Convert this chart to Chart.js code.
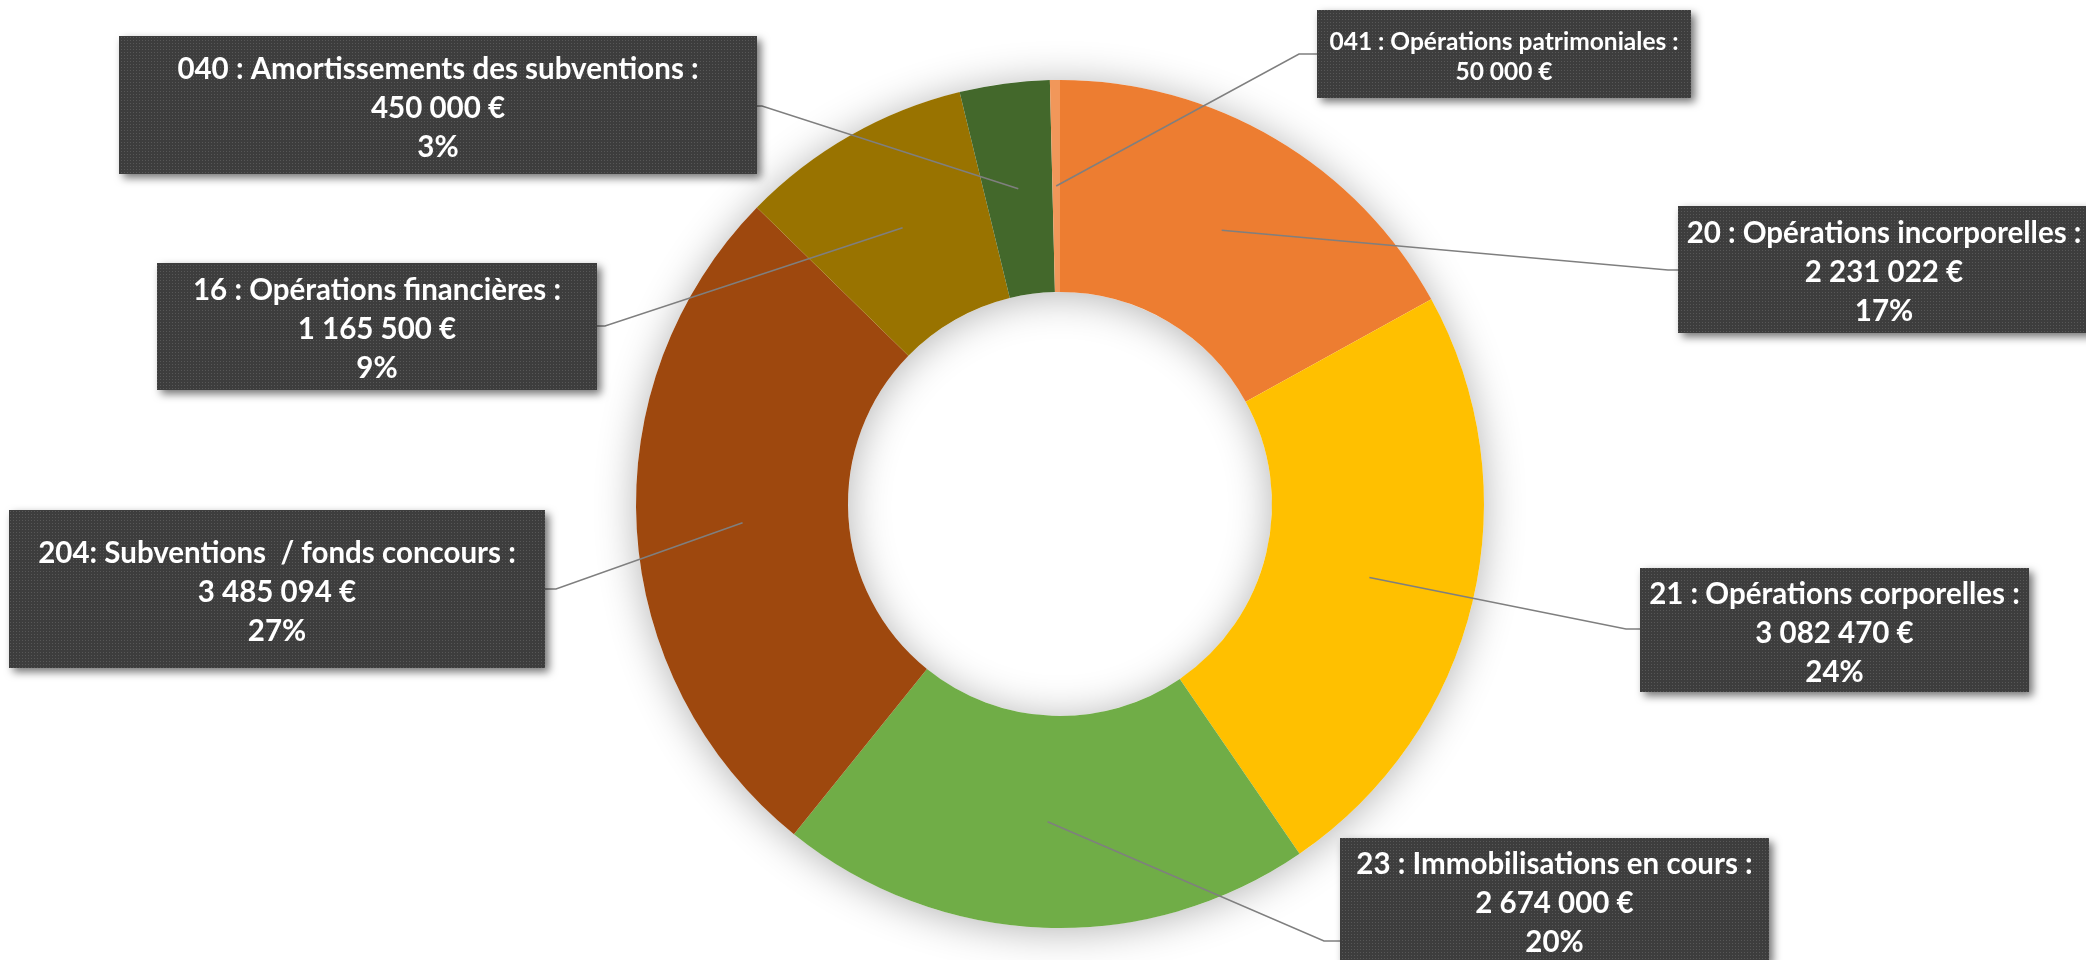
<!DOCTYPE html>
<html>
<head>
<meta charset="utf-8">
<script src="https://cdn.jsdelivr.net/npm/chart.js@4.4.1/dist/chart.umd.min.js"></script>
<style>
  html, body { margin: 0; padding: 0; background: #fff; overflow: hidden; }
  canvas { display: block; }
</style>
</head>
<body>
<canvas id="mychart" width="2086" height="960"></canvas>
<script>
// data
var categories = [
  '20 : Opérations incorporelles :',
  '21 : Opérations corporelles :',
  '23 : Immobilisations en cours :',
  '204: Subventions  / fonds concours :',
  '16 : Opérations financières :',
  '040 : Amortissements des subventions :',
  '041 : Opérations patrimoniales :'
];
var values = [2231022, 3082470, 2674000, 3485094, 1165500, 450000, 50000];
var percentLabels = ['17%', '24%', '20%', '27%', '9%', '3%', ''];

var orange = '#ED7D31';
var kuning = '#FFC000';
var hijau = '#70AD47';
var coklat = '#9E480E';
var emas = '#997300';
var hijauTua = '#43682B';
var salem = '#F1975A';

// label boxes: box rect + elbow point of the leader line
var boxes = [
  { x: 1678, y: 206, w: 412, h: 127, ex: 1668, ey: 270, size: 29.5, gap: 39 },
  { x: 1640, y: 568, w: 389, h: 124, ex: 1626, ey: 629, size: 29.5, gap: 39 },
  { x: 1340, y: 838, w: 429, h: 124, ex: 1324, ey: 941, size: 29.5, gap: 39 },
  { x: 9,    y: 510, w: 536, h: 158, ex: 556,  ey: 589, size: 29.5, gap: 39 },
  { x: 157,  y: 263, w: 440, h: 127, ex: 605,  ey: 326, size: 29.5, gap: 39 },
  { x: 119,  y: 36,  w: 638, h: 138, ex: 762,  ey: 106, size: 29.5, gap: 39 },
  { x: 1317, y: 10,  w: 374, h: 88,  ex: 1299, ey: 54,  size: 24.5, gap: 30 }
];

function formatEuro(v) {
  return String(v).replace(/\B(?=(\d{3})+(?!\d))/g, ' ') + ' €';
}

// dotted fill like the excel label boxes
function makePattern(ctx) {
  var c = document.createElement('canvas');
  c.width = 3; c.height = 3;
  var p = c.getContext('2d');
  p.fillStyle = '#3d3d3d';
  p.fillRect(0, 0, 3, 3);
  p.fillStyle = '#575757';
  p.fillRect(1, 1, 1, 1);
  return ctx.createPattern(c, 'repeat');
}

// soft shadow behind the ring
var ringShadow = {
  id: 'ringShadow',
  beforeDatasetsDraw: function (chart) {
    var arc = chart.getDatasetMeta(0).data[0];
    if (!arc) return;
    var ctx = chart.ctx;
    ctx.save();
    ctx.shadowColor = 'rgba(0,0,0,0.3)';
    ctx.shadowBlur = 40;
    ctx.shadowOffsetY = 3;
    ctx.fillStyle = '#ffffff';
    ctx.beginPath();
    ctx.arc(arc.x, arc.y, arc.outerRadius, 0, Math.PI * 2);
    ctx.arc(arc.x, arc.y, arc.innerRadius, Math.PI * 2, 0, true);
    ctx.closePath();
    ctx.fill();
    ctx.restore();
  }
};

// leader lines + label boxes
var labelBoxes = {
  id: 'labelBoxes',
  afterDatasetsDraw: function (chart) {
    var ctx = chart.ctx;
    var meta = chart.getDatasetMeta(0);
    var pattern = makePattern(ctx);

    meta.data.forEach(function (arc, i) {
      var b = boxes[i];
      var pos = arc.tooltipPosition();
      var edgeX = b.ex < b.x ? b.x : b.x + b.w;
      ctx.save();
      ctx.strokeStyle = '#7f7f7f';
      ctx.lineWidth = 1.6;
      ctx.beginPath();
      ctx.moveTo(pos.x, pos.y);
      ctx.lineTo(b.ex, b.ey);
      ctx.lineTo(edgeX, b.ey);
      ctx.stroke();
      ctx.restore();
    });

    meta.data.forEach(function (arc, i) {
      var b = boxes[i];
      ctx.save();
      ctx.shadowColor = 'rgba(0,0,0,0.55)';
      ctx.shadowBlur = 8;
      ctx.shadowOffsetX = 4;
      ctx.shadowOffsetY = 4;
      ctx.fillStyle = pattern;
      ctx.fillRect(b.x, b.y, b.w, b.h);
      ctx.restore();

      var lines = [categories[i], formatEuro(values[i])];
      if (percentLabels[i]) lines.push(percentLabels[i]);
      var cx = b.x + b.w / 2;
      var cy = b.y + b.h / 2 + 3;
      var y0 = cy - (lines.length - 1) * b.gap / 2;
      ctx.save();
      ctx.fillStyle = '#ffffff';
      ctx.font = 'bold ' + b.size + 'px Lato, "Open Sans", sans-serif';
      ctx.textAlign = 'center';
      ctx.textBaseline = 'middle';
      lines.forEach(function (t, k) {
        ctx.fillText(t, cx, y0 + k * b.gap);
      });
      ctx.restore();
    });
  }
};

var ctx = document.getElementById('mychart').getContext('2d');
var myChart = new Chart(ctx, {
  type: 'doughnut',
  data: {
    labels: categories,
    datasets: [{
      data: values,
      backgroundColor: [orange, kuning, hijau, coklat, emas, hijauTua, salem],
      borderWidth: 0
    }]
  },
  options: {
    responsive: false,
    animation: false,
    cutout: '50%',
    layout: { padding: { left: 636, right: 602, top: 80, bottom: 32 } },
    plugins: {
      legend: { display: false },
      tooltip: { enabled: false }
    },
    events: []
  },
  plugins: [ringShadow, labelBoxes]
});
</script>
</body>
</html>
